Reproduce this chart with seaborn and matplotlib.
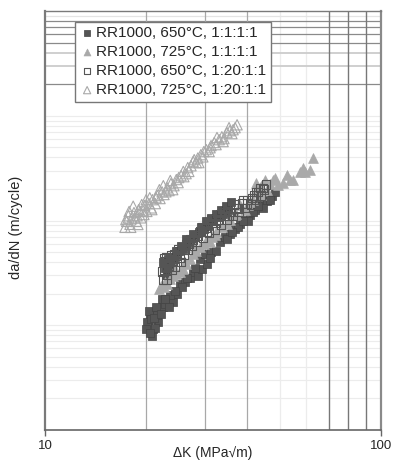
import matplotlib
matplotlib.use("Agg")
import matplotlib.pyplot as plt
from matplotlib.ticker import NullLocator, FixedLocator, FixedFormatter
import seaborn as sns

# Crack growth rate data, RR1000
# 650°C, 1:1:1:1 dwell (filled squares)
k_650_1 = [20.8, 20.3, 20.5, 21.3, 21.7, 20.9, 20.1, 20.7, 22.0, 22.5, 23.1, 23.9,
           24.7, 24.0, 21.6, 22.8, 23.6, 25.2, 26.1, 25.6, 27.0, 27.6, 28.5, 29.3,
           30.3, 28.9, 29.9, 31.2, 32.3, 33.2, 34.3, 35.5, 36.8, 38.0, 39.4, 40.7,
           42.2, 43.6, 45.8, 47.3, 48.4, 34.9, 37.5, 40.1, 44.6, 46.7, 21.3, 22.3,
           22.8, 23.3, 23.9, 24.4, 25.1, 25.8, 26.4, 27.2, 28.0, 28.7, 29.7, 30.6,
           31.7, 32.7, 33.9, 35.0, 23.0, 23.6,
           22.5, 23.1, 23.7, 24.6, 25.4, 26.3, 27.6, 29.1, 30.2, 31.2, 32.3, 33.4,
           34.6, 35.7,
           20.4, 21.1, 21.4, 22.1, 20.0, 20.5, 22.8, 23.4, 24.4, 26.4, 28.0, 31.0,
           36.0, 38.8, 41.6, 43.1]
dadn_650_1 = [7.9e-9, 9.8e-9, 1.21e-8, 1.33e-8, 1.08e-8, 9.2e-9, 1.08e-8, 1.14e-8,
              1.42e-8, 1.5e-8, 1.67e-8, 1.8e-8, 1.97e-8, 1.67e-8, 1.24e-8, 1.58e-8,
              1.93e-8, 2.46e-8, 2.6e-8, 2.3e-8, 2.85e-8, 3.2e-8, 2.95e-8, 3.41e-8,
              3.81e-8, 4.25e-8, 4.75e-8, 4.95e-8, 5.1e-8, 6.3e-8, 6.9e-8, 7.36e-8,
              8.21e-8, 9.16e-8, 1.02e-7, 1.14e-7, 1.27e-7, 1.42e-7, 1.52e-7, 1.70e-7,
              1.88e-7, 6.6e-8, 8.6e-8, 9.8e-8, 1.32e-7, 1.58e-7, 9.5e-9, 1.77e-8,
              3.55e-8, 4.25e-8, 3.95e-8, 4.5e-8, 5.1e-8, 5.3e-8, 6.15e-8, 6.59e-8,
              7.2e-8, 7.7e-8, 8.21e-8, 8.95e-8, 9.8e-8, 1.09e-7, 1.16e-7, 1.27e-7,
              3.0e-8, 3.3e-8,
              4.05e-8, 3.41e-8, 4.45e-8, 5.1e-8, 5.67e-8, 6.59e-8, 7.5e-8, 8.6e-8,
              9.8e-8, 1.06e-7, 1.16e-7, 1.27e-7, 1.39e-7, 1.5e-7,
              1.36e-8, 1.17e-8, 1.5e-8, 1.27e-8, 9.2e-9, 8.4e-9, 1.77e-8, 1.48e-8,
              2.1e-8, 2.85e-8, 3.5e-8, 4.4e-8, 7.85e-8, 9.8e-8, 1.2e-7, 1.37e-7]

# 725°C, 1:1:1:1 dwell (filled triangles)
k_725_1 = [21.8, 22.2, 22.6, 23.1, 23.6, 24.0, 24.6, 25.2, 25.8, 26.3, 27.0, 27.6,
           28.2, 28.9, 29.7, 30.3, 31.4, 32.3, 33.6, 35.5, 37.0, 38.0, 39.4, 40.7,
           41.6, 42.5, 43.6, 42.5, 43.9, 45.2, 46.7, 47.6, 49.3, 51.0, 52.5, 53.6,
           54.7, 58.6, 59.4, 61.5, 62.7,
           22.8, 24.4, 26.1, 28.0, 31.0, 32.1, 34.8, 36.8, 40.1, 43.9, 45.8, 57.4,
           48.4]
dadn_725_1 = [2.2e-8, 2.35e-8, 2.3e-8, 2.46e-8, 2.74e-8, 2.95e-8, 3.06e-8, 3.25e-8,
              3.41e-8, 3.81e-8, 4.25e-8, 4.75e-8, 5.1e-8, 5.55e-8, 5.91e-8, 6.45e-8,
              6.9e-8, 7.7e-8, 8.6e-8, 1.02e-7, 1.16e-7, 1.42e-7, 1.27e-7, 1.5e-7,
              1.58e-7, 1.97e-7, 1.88e-7, 2.3e-7, 2.15e-7, 2.46e-7, 2.25e-7, 2.46e-7,
              2.2e-7, 2.3e-7, 2.74e-7, 2.46e-7, 2.46e-7, 3.2e-7, 2.9e-7, 3.06e-7,
              3.95e-7,
              2.6e-8, 3.41e-8, 4.05e-8, 5.55e-8, 6.2e-8, 7.2e-8, 9.16e-8, 1.14e-7,
              1.42e-7, 1.77e-7, 1.97e-7, 2.9e-7, 2.57e-7]

# 650°C, 1:20:1:1 dwell (open squares)
k_650_20 = [22.5, 22.6, 22.8, 23.0, 23.1, 23.3, 23.6, 23.9, 24.2, 24.6, 24.9, 25.2,
            25.6, 25.9, 26.3, 26.6, 27.0, 27.4, 27.8, 28.3, 28.9, 29.5, 30.2, 30.8,
            31.4, 32.1, 32.7, 33.4, 34.1, 34.8, 35.5, 36.3, 37.0, 37.8, 38.6, 39.4,
            40.1, 41.0, 41.8, 42.5, 43.1, 43.9, 44.5, 45.5,
            22.3, 22.6, 23.0, 23.4, 23.7, 24.4, 24.7, 25.4, 26.1, 26.8, 27.6, 28.5,
            29.3, 30.4, 31.2, 32.3, 33.2, 34.3, 35.3, 36.5, 37.5, 38.8, 39.9, 41.3,
            42.4, 43.6, 44.9]
dadn_650_20 = [2.74e-8, 3.41e-8, 4.05e-8, 4.5e-8, 3.06e-8, 3.73e-8, 4.25e-8, 3.41e-8,
               4.75e-8, 4.05e-8, 5.30e-8, 4.45e-8, 5.55e-8, 4.75e-8, 5.91e-8, 5.30e-8,
               6.59e-8, 5.67e-8, 7.0e-8, 6.3e-8, 7.85e-8, 6.9e-8, 8.6e-8, 7.7e-8,
               9.4e-8, 8.21e-8, 1.02e-7, 9.16e-8, 1.11e-7, 1.02e-7, 1.2e-7, 1.11e-7,
               1.32e-7, 1.2e-7, 1.45e-7, 1.32e-7, 1.58e-7, 1.42e-7, 1.73e-7, 1.58e-7,
               1.88e-7, 1.73e-7, 2.05e-7, 2.20e-7,
               3.27e-8, 4.4e-8, 2.74e-8, 3.65e-8, 4.65e-8, 3.6e-8, 4.65e-8, 4.0e-8,
               5.3e-8, 6.05e-8, 6.59e-8, 7.2e-8, 8.6e-8, 7.85e-8, 1.02e-7, 9.4e-8,
               1.14e-7, 1.2e-7, 1.11e-7, 1.42e-7, 1.3e-7, 1.58e-7, 1.45e-7, 1.65e-7,
               1.88e-7, 2.05e-7, 1.97e-7]

# 725°C, 1:20:1:1 dwell (open triangles)
k_725_20 = [17.3, 17.5, 17.7, 17.9, 18.1, 18.4, 18.7, 18.8, 19.0, 19.3, 19.6, 19.8,
            20.1, 20.4, 20.7, 20.9, 21.3, 21.6, 22.0, 22.3, 22.6, 23.1, 23.4, 23.7,
            24.2, 24.6, 24.9, 25.4, 25.8, 26.3, 26.6, 27.2, 27.6, 28.2, 28.5, 29.1,
            29.5, 30.2, 30.8, 31.2, 31.9, 32.3, 33.0, 33.6, 34.1, 34.8, 35.5, 36.0,
            36.8, 37.3,
            17.4, 17.8, 18.0, 18.3, 18.5, 18.9, 19.2, 19.4, 19.7, 20.0, 20.5, 20.8,
            21.4, 21.9, 22.5, 22.9, 23.6, 24.0, 25.0, 25.9, 26.8, 27.8, 28.7, 29.7,
            31.0, 32.5, 33.9, 35.3, 36.3]
dadn_725_20 = [8.6e-8, 9.8e-8, 1.11e-7, 9.2e-8, 1.04e-7, 1.19e-7, 9.8e-8, 1.11e-7,
               1.27e-7, 1.06e-7, 1.24e-7, 1.39e-7, 1.22e-7, 1.45e-7, 1.32e-7, 1.58e-7,
               1.45e-7, 1.73e-7, 1.62e-7, 1.88e-7, 1.77e-7, 2.05e-7, 1.93e-7, 2.25e-7,
               2.15e-7, 2.46e-7, 2.30e-7, 2.68e-7, 2.94e-7, 2.80e-7, 3.2e-7, 3.33e-7,
               3.65e-7, 3.57e-7, 3.95e-7, 4.25e-7, 4.05e-7, 4.75e-7, 4.55e-7, 5.19e-7,
               5.55e-7, 5.30e-7, 5.91e-7, 6.3e-7, 6.05e-7, 6.9e-7, 7.2e-7, 6.75e-7,
               7.7e-7, 8.2e-7,
               1.02e-7, 1.22e-7, 8.6e-8, 1.37e-7, 1.06e-7, 9.16e-8, 1.22e-7, 1.42e-7,
               1.14e-7, 1.58e-7, 1.65e-7, 1.27e-7, 1.65e-7, 1.97e-7, 2.15e-7, 1.88e-7,
               2.41e-7, 1.97e-7, 2.57e-7, 2.62e-7, 2.94e-7, 3.81e-7, 3.57e-7, 4.55e-7,
               4.95e-7, 6.2e-7, 5.67e-7, 7.7e-7, 7.36e-7]

series_labels = ["RR1000, 650°C, 1:1:1:1", "RR1000, 725°C, 1:1:1:1",
                 "RR1000, 650°C, 1:20:1:1", "RR1000, 725°C, 1:20:1:1"]

x_tick_values = [10, 100]
x_tick_labels = ["10", "100"]

sns.set_style("white")
plt.rcParams["font.family"] = ["Liberation Sans", "DejaVu Sans"]

fig = plt.figure(figsize=(3.93, 4.67), dpi=100)
ax = fig.add_axes([45 / 393, 1 - 430 / 467, 336 / 393, 419 / 467])
ax.set_xscale("log")
ax.set_yscale("log")
ax.set_xlim(10, 100)
ax.set_ylim(1e-9, 1e-5)

# grid: light log minor lines in the lower decades, darker in the top decade
light_h = [m * 10.0 ** e for e in (-9, -8, -7) for m in range(2, 10)] + [1e-8, 1e-7, 1e-6]
for yv in light_h:
    ax.axhline(yv, color="#ececec", lw=0.8, zorder=0)
for yv in [2e-6, 5e-6, 6e-6, 7e-6, 8e-6]:
    ax.axhline(yv, color="#8a8a8a", lw=0.9, zorder=0.5)
for yv in [3e-6, 4e-6]:
    ax.axhline(yv, color="#cfcfcf", lw=1.4, zorder=0.5)
ax.axhline(9e-6, color="#e4e4e4", lw=0.9, zorder=0.5)

for xv in [50, 60]:
    ax.axvline(xv, color="#ececec", lw=0.9, zorder=0.2)
for xv in [20, 30, 40]:
    ax.axvline(xv, color="#a8a8a8", lw=0.9, zorder=0.6)
for xv in [70, 80, 90]:
    ax.axvline(xv, color="#777777", lw=1.0, zorder=0.6)

dark = "#555555"
light = "#a9a9a9"

sns.scatterplot(x=k_650_1, y=dadn_650_1, ax=ax, marker="s", s=32,
                color=dark, edgecolor="#444444", linewidth=0.5,
                label=series_labels[0], zorder=3)
sns.scatterplot(x=k_725_1, y=dadn_725_1, ax=ax, marker="^", s=50,
                color=light, edgecolor=light, linewidth=0.5,
                label=series_labels[1], zorder=3)
sns.scatterplot(x=k_650_20, y=dadn_650_20, ax=ax, marker="s", s=36,
                facecolor="none", edgecolor=dark, linewidth=0.8,
                label=series_labels[2], zorder=3)
sns.scatterplot(x=k_725_20, y=dadn_725_20, ax=ax, marker="^", s=55,
                facecolor="none", edgecolor=light, linewidth=0.8,
                label=series_labels[3], zorder=3)

# axes decoration
ax.xaxis.set_major_locator(FixedLocator(x_tick_values))
ax.xaxis.set_major_formatter(FixedFormatter(x_tick_labels))
ax.xaxis.set_minor_locator(NullLocator())
ax.yaxis.set_major_locator(NullLocator())
ax.yaxis.set_minor_locator(NullLocator())
ax.tick_params(axis="x", direction="out", length=4, width=1, color="#666666",
               labelsize=9.5, pad=3, bottom=True)

for side, col, lw in [("left", "#7a7a7a", 1.6), ("bottom", "#666666", 1.2),
                      ("top", "#7a7a7a", 1.0), ("right", "#8a8a8a", 1.6)]:
    ax.spines[side].set_color(col)
    ax.spines[side].set_linewidth(lw)
    ax.spines[side].set_visible(True)

ax.set_xlabel("\u0394K (MPa\u221am)", fontsize=10)
ax.xaxis.set_label_coords(0.5, -0.038)
ax.set_ylabel("da/dN (m/cycle)", fontsize=10.5)
ax.yaxis.set_label_coords(-0.066, 0.484)

leg = ax.legend(loc="upper left", bbox_to_anchor=(0.089, 0.974), borderaxespad=0,
                fontsize=11, frameon=True, fancybox=False, framealpha=1,
                edgecolor="#777777", handletextpad=0.1, handlelength=1.0,
                labelspacing=0.32, borderpad=0.3, markerscale=0.7)
leg.get_frame().set_linewidth(1.0)
leg.set_zorder(5)

fig.savefig("out.png", dpi=100)
